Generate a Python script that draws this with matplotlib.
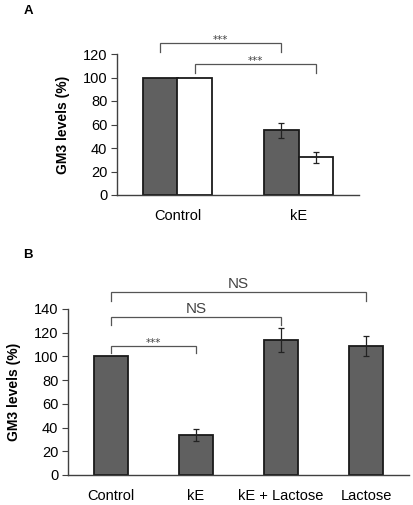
import matplotlib
matplotlib.use("Agg")
import matplotlib.pyplot as plt
import numpy as np

plt.rcParams['font.family'] = ['Liberation Sans', 'DejaVu Sans']

# Panel A data
a_categories = ["Control", "kE"]
a_dark = [100, 55]
a_dark_err = [0, 6.5]
a_white = [100, 32]
a_white_err = [0, 4.5]

# Panel B data
b_categories = ["Control", "kE", "kE + Lactose", "Lactose"]
b_values = [100, 34, 114, 109]
b_err = [0, 5, 10, 8.5]

ylabel = "GM3 levels (%)"
bar_dark = "#606060"
edge = "#1a1a1a"
spine_c = "#404040"

fig = plt.figure(figsize=(4.14, 5.05), dpi=100)
W, H = 414, 505

def fig_axes(x0, y_top, x1, y_bot):
    return fig.add_axes([x0 / W, 1 - y_bot / H, (x1 - x0) / W, (y_bot - y_top) / H])

def style(ax):
    for s in ["top", "right"]:
        ax.spines[s].set_visible(False)
    for s in ["left", "bottom"]:
        ax.spines[s].set_color(spine_c)
        ax.spines[s].set_linewidth(1.0)
    ax.tick_params(axis="x", length=0, labelsize=10.5, pad=10)
    ax.tick_params(axis="y", length=4, color=spine_c, labelsize=10.5, pad=3)

def bracket(ax, x1, x2, y, drop, text, fs, tdy, col="#555555", family=None):
    ax.plot([x1, x1, x2, x2], [y - drop, y, y, y - drop], color=col, lw=0.9,
            clip_on=False, solid_joinstyle="miter")
    kw = {}
    if family:
        kw["family"] = family
    ax.text((x1 + x2) / 2, y + tdy, text, ha="center", va="bottom", fontsize=fs,
            color="#444444", clip_on=False, **kw)

STAR_FAM = ["DejaVu Sans"]

# ---------- Panel A ----------
axA = fig_axes(117, 54, 359, 195)
w = 0.285
xa = np.arange(len(a_categories))
axA.bar(xa - w / 2, a_dark, w, color=bar_dark, edgecolor=edge, linewidth=1.3, zorder=2)
axA.bar(xa + w / 2, a_white, w, color="white", edgecolor=edge, linewidth=1.3, zorder=2)
for i in range(len(xa)):
    if a_dark_err[i] > 0:
        axA.errorbar(xa[i] - w / 2, a_dark[i], yerr=a_dark_err[i], fmt="none",
                     ecolor="#222222", elinewidth=0.9, capsize=2.5, capthick=0.9, zorder=3)
    if a_white_err[i] > 0:
        axA.errorbar(xa[i] + w / 2, a_white[i], yerr=a_white_err[i], fmt="none",
                     ecolor="#222222", elinewidth=0.9, capsize=2.5, capthick=0.9, zorder=3)
axA.set_xlim(-0.5, 1.5)
axA.set_ylim(0, 120)
axA.set_yticks(np.arange(0, 121, 20))
axA.set_xticks(xa)
axA.set_xticklabels(a_categories)
style(axA)
axA.set_ylabel(ylabel, fontsize=10, fontweight="bold", labelpad=9)
bracket(axA, -w / 2, 1 - w / 2, 129, 7, "***", 7.5, -1.5, family=STAR_FAM)
bracket(axA, w / 2, 1 + w / 2, 111.5, 7.5, "***", 7.5, -1.5, family=STAR_FAM)
fig.text(28 / W, 1 - 11 / H, "A", fontsize=9.5, fontweight="bold", ha="center", va="center")

# ---------- Panel B ----------
axB = fig_axes(68, 309, 409, 475)
xb = np.arange(len(b_categories))
wb = 0.4
axB.bar(xb, b_values, wb, color=bar_dark, edgecolor=edge, linewidth=1.3, zorder=2)
for i in range(len(xb)):
    if b_err[i] > 0:
        axB.errorbar(xb[i], b_values[i], yerr=b_err[i], fmt="none",
                     ecolor="#222222", elinewidth=0.9, capsize=2.5, capthick=0.9, zorder=3)
axB.set_xlim(-0.5, 3.5)
axB.set_ylim(0, 140)
axB.set_yticks(np.arange(0, 141, 20))
axB.set_xticks(xb)
axB.set_xticklabels(b_categories)
style(axB)
axB.set_ylabel(ylabel, fontsize=10, fontweight="bold", labelpad=9)
bracket(axB, 0, 1, 108.7, 5.5, "***", 7.5, -1.5, family=STAR_FAM)
bracket(axB, 0, 2, 133.4, 6.5, "NS", 11, 0.8)
bracket(axB, 0, 3, 154, 7, "NS", 11, 0.8)
fig.text(28 / W, 1 - 255 / H, "B", fontsize=9.5, fontweight="bold", ha="center", va="center")

fig.savefig("out.png", dpi=100)
